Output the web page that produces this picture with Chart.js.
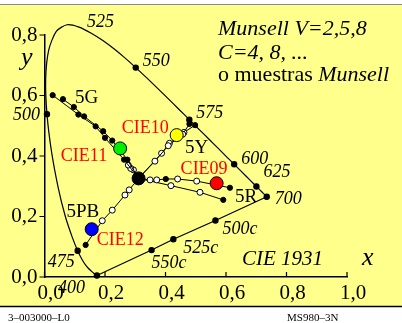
<!DOCTYPE html>
<html>
<head>
<meta charset="utf-8">
<script src="https://cdn.jsdelivr.net/npm/chart.js@4.4.1/dist/chart.umd.min.js"></script>
<style>
html, body { margin: 0; padding: 0; background: #fff; }
canvas { display: block; }
</style>
</head>
<body>
<canvas id="myChart" width="402" height="323"></canvas>
<script>
// spectral locus, CIE 1931
var locusNm = [400, 420, 440, 450, 460, 465, 470, 475, 480, 485, 490, 495, 500, 505, 510, 515, 520, 525, 530, 535, 540, 545, 550, 555, 560, 565, 570, 575, 580, 585, 590, 595, 600, 610, 620, 625, 630, 640, 650, 660, 680, 700];
var locusX = [0.1733, 0.1714, 0.1644, 0.1566, 0.1440, 0.1355, 0.1241, 0.1096, 0.0913, 0.0687, 0.0454, 0.0235, 0.0082, 0.0039, 0.0139, 0.0389, 0.0743, 0.1142, 0.1547, 0.1929, 0.2296, 0.2658, 0.3016, 0.3373, 0.3731, 0.4087, 0.4441, 0.4788, 0.5125, 0.5448, 0.5752, 0.6029, 0.6270, 0.6658, 0.6915, 0.7006, 0.7079, 0.7190, 0.7260, 0.7300, 0.7334, 0.7347];
var locusY = [0.0048, 0.0051, 0.0109, 0.0177, 0.0297, 0.0399, 0.0578, 0.0868, 0.1327, 0.2007, 0.2950, 0.4127, 0.5384, 0.6548, 0.7502, 0.8120, 0.8338, 0.8262, 0.8059, 0.7816, 0.7543, 0.7243, 0.6923, 0.6589, 0.6245, 0.5896, 0.5547, 0.5202, 0.4866, 0.4544, 0.4242, 0.3965, 0.3725, 0.3340, 0.3083, 0.2993, 0.2920, 0.2809, 0.2740, 0.2700, 0.2666, 0.2653];
var markedNm = [400, 475, 500, 525, 550, 575, 600, 625, 700];

// purple line 700 -> 400 with complementary points
var purpleX = [0.7347, 0.565, 0.426, 0.354, 0.1733];
var purpleY = [0.2653, 0.187, 0.125, 0.089, 0.0048];
var purpleNames = ['', '500c', '525c', '550c', ''];

// Munsell samples (V = 2, 5, 8), lines run from the grey point outwards
var grayX = [0.311];
var grayY = [0.326];
var g1X = [0.263, 0.200, 0.169, 0.112, 0.027];
var g1Y = [0.388, 0.460, 0.498, 0.537, 0.601];
var g1V = [5, 5, 5, 5, 5];
var g2X = [0.274, 0.224, 0.194, 0.131, 0.097, 0.061];
var g2Y = [0.388, 0.451, 0.482, 0.531, 0.562, 0.588];
var g2V = [2, 2, 2, 2, 2, 2];
var g3X = [0.294, 0.285, 0.277];
var g3Y = [0.354, 0.359, 0.370];
var g3V = [8, 8, 8];
var y1X = [0.365, 0.409, 0.457, 0.479];
var y1Y = [0.383, 0.434, 0.472, 0.506];
var y1V = [8, 8, 8, 5];
var y2X = [0.387, 0.413, 0.461, 0.498];
var y2Y = [0.409, 0.442, 0.478, 0.502];
var y2V = [8, 8, 8, 5];
var r1X = [0.349, 0.371, 0.401, 0.440, 0.503, 0.613];
var r1Y = [0.321, 0.321, 0.324, 0.324, 0.317, 0.295];
var r1V = [8, 8, 5, 8, 8, 5];
var r2X = [0.418, 0.514, 0.591];
var r2Y = [0.302, 0.280, 0.255];
var r2V = [8, 8, 5];
var pbX = [0.280, 0.266, 0.224, 0.191, 0.136];
var pbY = [0.288, 0.271, 0.221, 0.186, 0.106];
var pbV = [8, 8, 8, 8, 2];

// CIE test colours 9-12
var testNames = ['CIE09', 'CIE10', 'CIE11', 'CIE12'];
var testX = [0.569, 0.437, 0.250, 0.156];
var testY = [0.310, 0.469, 0.425, 0.158];
var testColors = ['#ff0000', '#ffff00', '#00ee00', '#0000ff'];

var xTicks = [0, 0.2, 0.4, 0.6, 0.8, 1.0];
var yTicks = [0, 0.2, 0.4, 0.6, 0.8];

var SERIF = "'Liberation Serif', 'Times New Roman', serif";

function pts(xs, ys) {
    return xs.map(function (x, i) { return {x: x, y: ys[i]}; });
}

function munsellLine(xs, ys, vs) {
    var data = [{x: grayX[0], y: grayY[0]}].concat(pts(xs, ys));
    var v = [0].concat(vs);
    return {
        data: data,
        showLine: true,
        borderColor: '#000',
        borderWidth: 1,
        pointRadius: v.map(function (k) { return k === 0 ? 0 : (k === 8 ? 3 : 2.6); }),
        pointBackgroundColor: v.map(function (k) { return k === 8 ? '#fff' : '#000'; }),
        pointBorderColor: '#000',
        pointBorderWidth: 1,
        order: 2
    };
}

var datasets = [];
datasets.push({
    data: pts(testX, testY),
    pointRadius: 6.5,
    pointBackgroundColor: testColors,
    pointBorderColor: '#000',
    pointBorderWidth: 1,
    order: 0
});
datasets.push({
    data: pts(grayX, grayY),
    pointRadius: 6.5,
    pointBackgroundColor: '#000',
    pointBorderColor: '#000',
    order: 1
});
[[g1X, g1Y, g1V], [g2X, g2Y, g2V], [g3X, g3Y, g3V], [y1X, y1Y, y1V], [y2X, y2Y, y2V],
 [r1X, r1Y, r1V], [r2X, r2Y, r2V], [pbX, pbY, pbV]].forEach(function (l) {
    datasets.push(munsellLine(l[0], l[1], l[2]));
});
datasets.push({
    data: pts(locusX, locusY),
    showLine: true,
    tension: 0.25,
    borderColor: '#000',
    borderWidth: 1.2,
    pointRadius: locusNm.map(function (n) { return markedNm.indexOf(n) >= 0 ? 2.6 : 0; }),
    pointBackgroundColor: '#000',
    pointBorderColor: '#000',
    clip: false,
    order: 3
});
datasets.push({
    data: pts(purpleX, purpleY),
    showLine: true,
    borderColor: '#000',
    borderWidth: 1.2,
    pointRadius: purpleNames.map(function (n) { return n ? 2.6 : 0; }),
    pointBackgroundColor: '#000',
    pointBorderColor: '#000',
    clip: false,
    order: 3
});

// label placement (pixel offsets from the marked point)
var wlPlace = {
    400: [-12, 13, 'right'], 475: [-3, 12, 'right'], 500: [-7, 1, 'right'],
    525: [8, -5, 'left'], 550: [7, -6, 'left'], 575: [7, -6, 'left'],
    600: [7, -5, 'left'], 625: [7, -14, 'left'], 700: [8, 3, 'left']
};
var purplePlace = [null, [7, 9, 'left'], [10, 9, 'left'], [0, 13, 'left'], null];
var testPlace = [[-36, -14, 'left'], [-8, -7, 'right'], [-13, 8, 'right'], [5, 11, 'left']];

function txt(c, s, x, y, font, color, align, base) {
    c.font = font;
    c.fillStyle = color || '#000';
    c.textAlign = align || 'left';
    c.textBaseline = base || 'middle';
    c.fillText(s, x, y);
}

var sheet = {
    id: 'sheet',
    beforeDraw: function (chart) {
        var c = chart.ctx;
        c.save();
        c.fillStyle = '#ffffff';
        c.fillRect(0, 0, chart.width, chart.height);
        c.fillStyle = '#ffff8c';
        c.fillRect(0, 5, chart.width, 301);
        c.strokeStyle = '#8a8a8a';
        c.lineWidth = 1;
        c.beginPath(); c.moveTo(0, 4.5); c.lineTo(chart.width, 4.5); c.stroke();
        c.strokeStyle = '#000';
        c.lineWidth = 1.5;
        c.beginPath(); c.moveTo(0, 306.5); c.lineTo(chart.width, 306.5); c.stroke();
        c.restore();
    },
    afterDraw: function (chart) {
        var c = chart.ctx, xs = chart.scales.x, ys = chart.scales.y;
        var a = chart.chartArea;
        c.save();
        // tick marks: x inside, y outside
        c.strokeStyle = '#000';
        c.lineWidth = 1.2;
        c.beginPath();
        xTicks.forEach(function (v) {
            var px = xs.getPixelForValue(v);
            c.moveTo(px, a.bottom); c.lineTo(px, a.bottom - 5);
        });
        yTicks.forEach(function (v) {
            var py = ys.getPixelForValue(v);
            c.moveTo(a.left - 5, py); c.lineTo(a.left, py);
        });
        c.stroke();

        var it = 'italic 18px ' + SERIF;
        locusNm.forEach(function (n, i) {
            var p = wlPlace[n];
            if (!p) return;
            txt(c, String(n), xs.getPixelForValue(locusX[i]) + p[0], ys.getPixelForValue(locusY[i]) + p[1], it, '#000', p[2]);
        });
        purpleNames.forEach(function (n, i) {
            var p = purplePlace[i];
            if (!p) return;
            txt(c, n, xs.getPixelForValue(purpleX[i]) + p[0], ys.getPixelForValue(purpleY[i]) + p[1], it, '#000', p[2]);
        });
        testNames.forEach(function (n, i) {
            var p = testPlace[i];
            txt(c, n, xs.getPixelForValue(testX[i]) + p[0], ys.getPixelForValue(testY[i]) + p[1], '18px ' + SERIF, '#ff0000', p[2]);
        });

        var hue = '19px ' + SERIF;
        txt(c, '5G', 75, 98.5, hue);
        txt(c, '5Y', 185, 148, hue);
        txt(c, '5R', 235, 197, hue);
        txt(c, '5PB', 66.5, 212, hue);

        txt(c, 'Munsell V=2,5,8', 218, 35, 'italic 22px ' + SERIF, '#000', 'left', 'alphabetic');
        txt(c, 'C=4, 8, ...', 218, 58.5, 'italic 22px ' + SERIF, '#000', 'left', 'alphabetic');
        c.font = '22px ' + SERIF;
        var w = c.measureText('o muestras ').width;
        txt(c, 'o muestras ', 218, 81, '22px ' + SERIF, '#000', 'left', 'alphabetic');
        txt(c, 'Munsell', 218 + w, 81, 'italic 22px ' + SERIF, '#000', 'left', 'alphabetic');

        txt(c, 'CIE 1931', 242, 265, 'italic 21px ' + SERIF, '#000', 'left', 'alphabetic');
        txt(c, 'x', 362, 265, 'italic 26px ' + SERIF, '#000', 'left', 'alphabetic');
        txt(c, 'y', 21, 65, 'italic 26px ' + SERIF, '#000', 'left', 'alphabetic');

        txt(c, '3\u2013003000\u2013L0', 8, 318, '11px ' + SERIF);
        txt(c, 'MS980\u20133N', 287, 318, '11px ' + SERIF);
        c.restore();
    }
};

function commaLabel(v) {
    return v.toFixed(1).replace('.', ',');
}

var ctx = document.getElementById('myChart').getContext('2d');
var myChart = new Chart(ctx, {
    type: 'scatter',
    data: {datasets: datasets},
    plugins: [sheet],
    options: {
        responsive: false,
        animation: false,
        devicePixelRatio: 1,
        layout: {padding: {left: 0, top: 35, right: 55, bottom: 0}},
        plugins: {legend: {display: false}, tooltip: {enabled: false}},
        scales: {
            x: {
                type: 'linear', min: 0, max: 1,
                afterFit: function (s) { s.height = 46; },
                grid: {display: false, drawTicks: false},
                border: {display: true, color: '#000', width: 1.5},
                ticks: {
                    stepSize: 0.2, padding: 4, labelOffset: 6, maxRotation: 0,
                    color: '#000', font: {family: SERIF, size: 21},
                    callback: commaLabel
                }
            },
            y: {
                type: 'linear', min: 0, max: 0.8,
                afterFit: function (s) { s.width = 44.5; },
                grid: {display: false, drawTicks: false},
                border: {display: true, color: '#000', width: 1.5},
                ticks: {
                    stepSize: 0.2, padding: 7,
                    color: '#000', font: {family: SERIF, size: 21},
                    callback: commaLabel
                }
            }
        }
    }
});
</script>
</body>
</html>
